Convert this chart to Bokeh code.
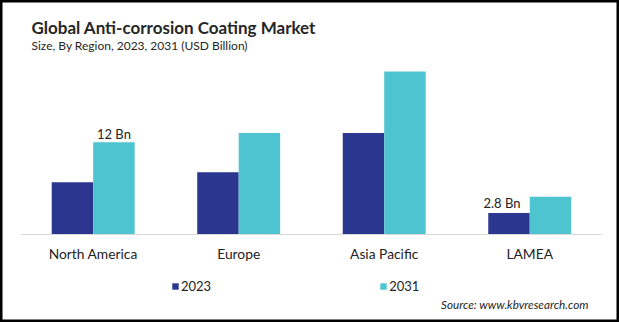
from bokeh.plotting import figure
from bokeh.models import FactorRange, Range1d, Label, Legend, LegendItem, ColumnDataSource
from bokeh.transform import dodge
from bokeh.core.properties import value
from bokeh.embed import file_html
from bokeh.resources import INLINE

# ---- data ----
regions = ["North America", "Europe", "Asia Pacific", "LAMEA"]
years = ["2023", "2031"]
values_2023 = [6.8, 8.1, 13.2, 2.8]
values_2031 = [12.0, 13.2, 21.2, 4.9]
bar_labels_region = ["North America", "LAMEA"]
bar_labels_year = ["2031", "2023"]
bar_labels_text = ["12 Bn", "2.8 Bn"]

title_text = "Global Anti-corrosion Coating Market"
subtitle_text = "Size, By Region, 2023, 2031 (USD Billion)"
source_text = "Source: www.kbvresearch.com"

# ---- styling ----
FONT = "Lato"
C2023 = "#2b378f"
C2031 = "#4ec4d0"
W, H = 619, 322
BASE_PX = 234          # baseline position from top (pixels)
PX_PER_UNIT = 7.69      # pixels per billion


def py(px_from_top):
    return (BASE_PX - px_from_top) / PX_PER_UNIT


src = ColumnDataSource(dict(region=regions, v2023=values_2023, v2031=values_2031))

p = figure(width=W, height=H,
           x_range=FactorRange(factors=regions, range_padding=0.127,
                               range_padding_units="absolute"),
           y_range=Range1d(py(H), py(0)),
           x_axis_location=None, y_axis_location=None,
           min_border=0, toolbar_location=None, output_backend="svg",
           outline_line_color="black", outline_line_width=4,
           background_fill_color="white", border_fill_color="white")
p.grid.grid_line_color = None

bw = 0.285
r1 = p.vbar(x=dodge("region", -bw / 2 + 0.01, range=p.x_range), top="v2023", width=bw,
            source=src, fill_color=C2023, line_color=None)
r2 = p.vbar(x=dodge("region", bw / 2 + 0.01, range=p.x_range), top="v2031", width=bw,
            source=src, fill_color=C2031, line_color=None)

# baseline across the category span
p.segment(x0=[0.01], y0=[0], x1=[len(regions) + 0.01], y1=[0], line_color="#d9d9d9", line_width=1)

# category labels
p.text(x=dodge("region", 0.01, range=p.x_range), y=py(253), text="region", source=src,
       text_font=value(FONT), text_font_size="13.8px", text_color="#222222",
       text_align="center", text_baseline="middle")

# value labels
val_lookup = {"2023": dict(zip(regions, values_2023)), "2031": dict(zip(regions, values_2031))}
offs = {"2023": -bw / 2 + 0.01, "2031": bw / 2 + 0.01}
x_off = {"12 Bn": 0, "2.8 Bn": -7}
y_off = {"12 Bn": -8, "2.8 Bn": -10}
for reg, yr, txt in zip(bar_labels_region, bar_labels_year, bar_labels_text):
    s = ColumnDataSource(dict(region=[reg], top=[val_lookup[yr][reg]], t=[txt]))
    p.text(x=dodge("region", offs[yr], range=p.x_range), y="top", text="t", source=s,
           text_font=value(FONT), text_font_size="13px", text_color="#222222",
           text_align="center", text_baseline="alphabetic",
           x_offset=x_off[txt], y_offset=y_off[txt])

# legend
legend = Legend(items=[LegendItem(label=years[0], renderers=[r1]),
                       LegendItem(label=years[1], renderers=[r2])],
                location=(171, 26), orientation="horizontal",
                glyph_width=8, glyph_height=8, label_standoff=2, spacing=168,
                padding=0, margin=0, border_line_color=None,
                background_fill_alpha=0,
                label_text_font=FONT, label_text_font_size="13px",
                label_text_color="#222222", label_height=20)
p.add_layout(legend, "center")

# titles and source
p.add_layout(Label(x=31, x_units="screen", y=py(27), text=title_text,
                   text_font=FONT, text_font_size="17px", text_font_style="bold",
                   text_color="#262626", text_baseline="middle"))
p.add_layout(Label(x=31, x_units="screen", y=py(45), text=subtitle_text,
                   text_font=FONT, text_font_size="12px",
                   text_color="#262626", text_baseline="middle"))
p.add_layout(Label(x=588, x_units="screen", y=py(303), text=source_text,
                   text_font=FONT, text_font_size="11.7px", text_font_style="italic",
                   text_color="#262626", text_baseline="middle", text_align="right"))

open("out.html", "w").write(file_html(p, INLINE))
